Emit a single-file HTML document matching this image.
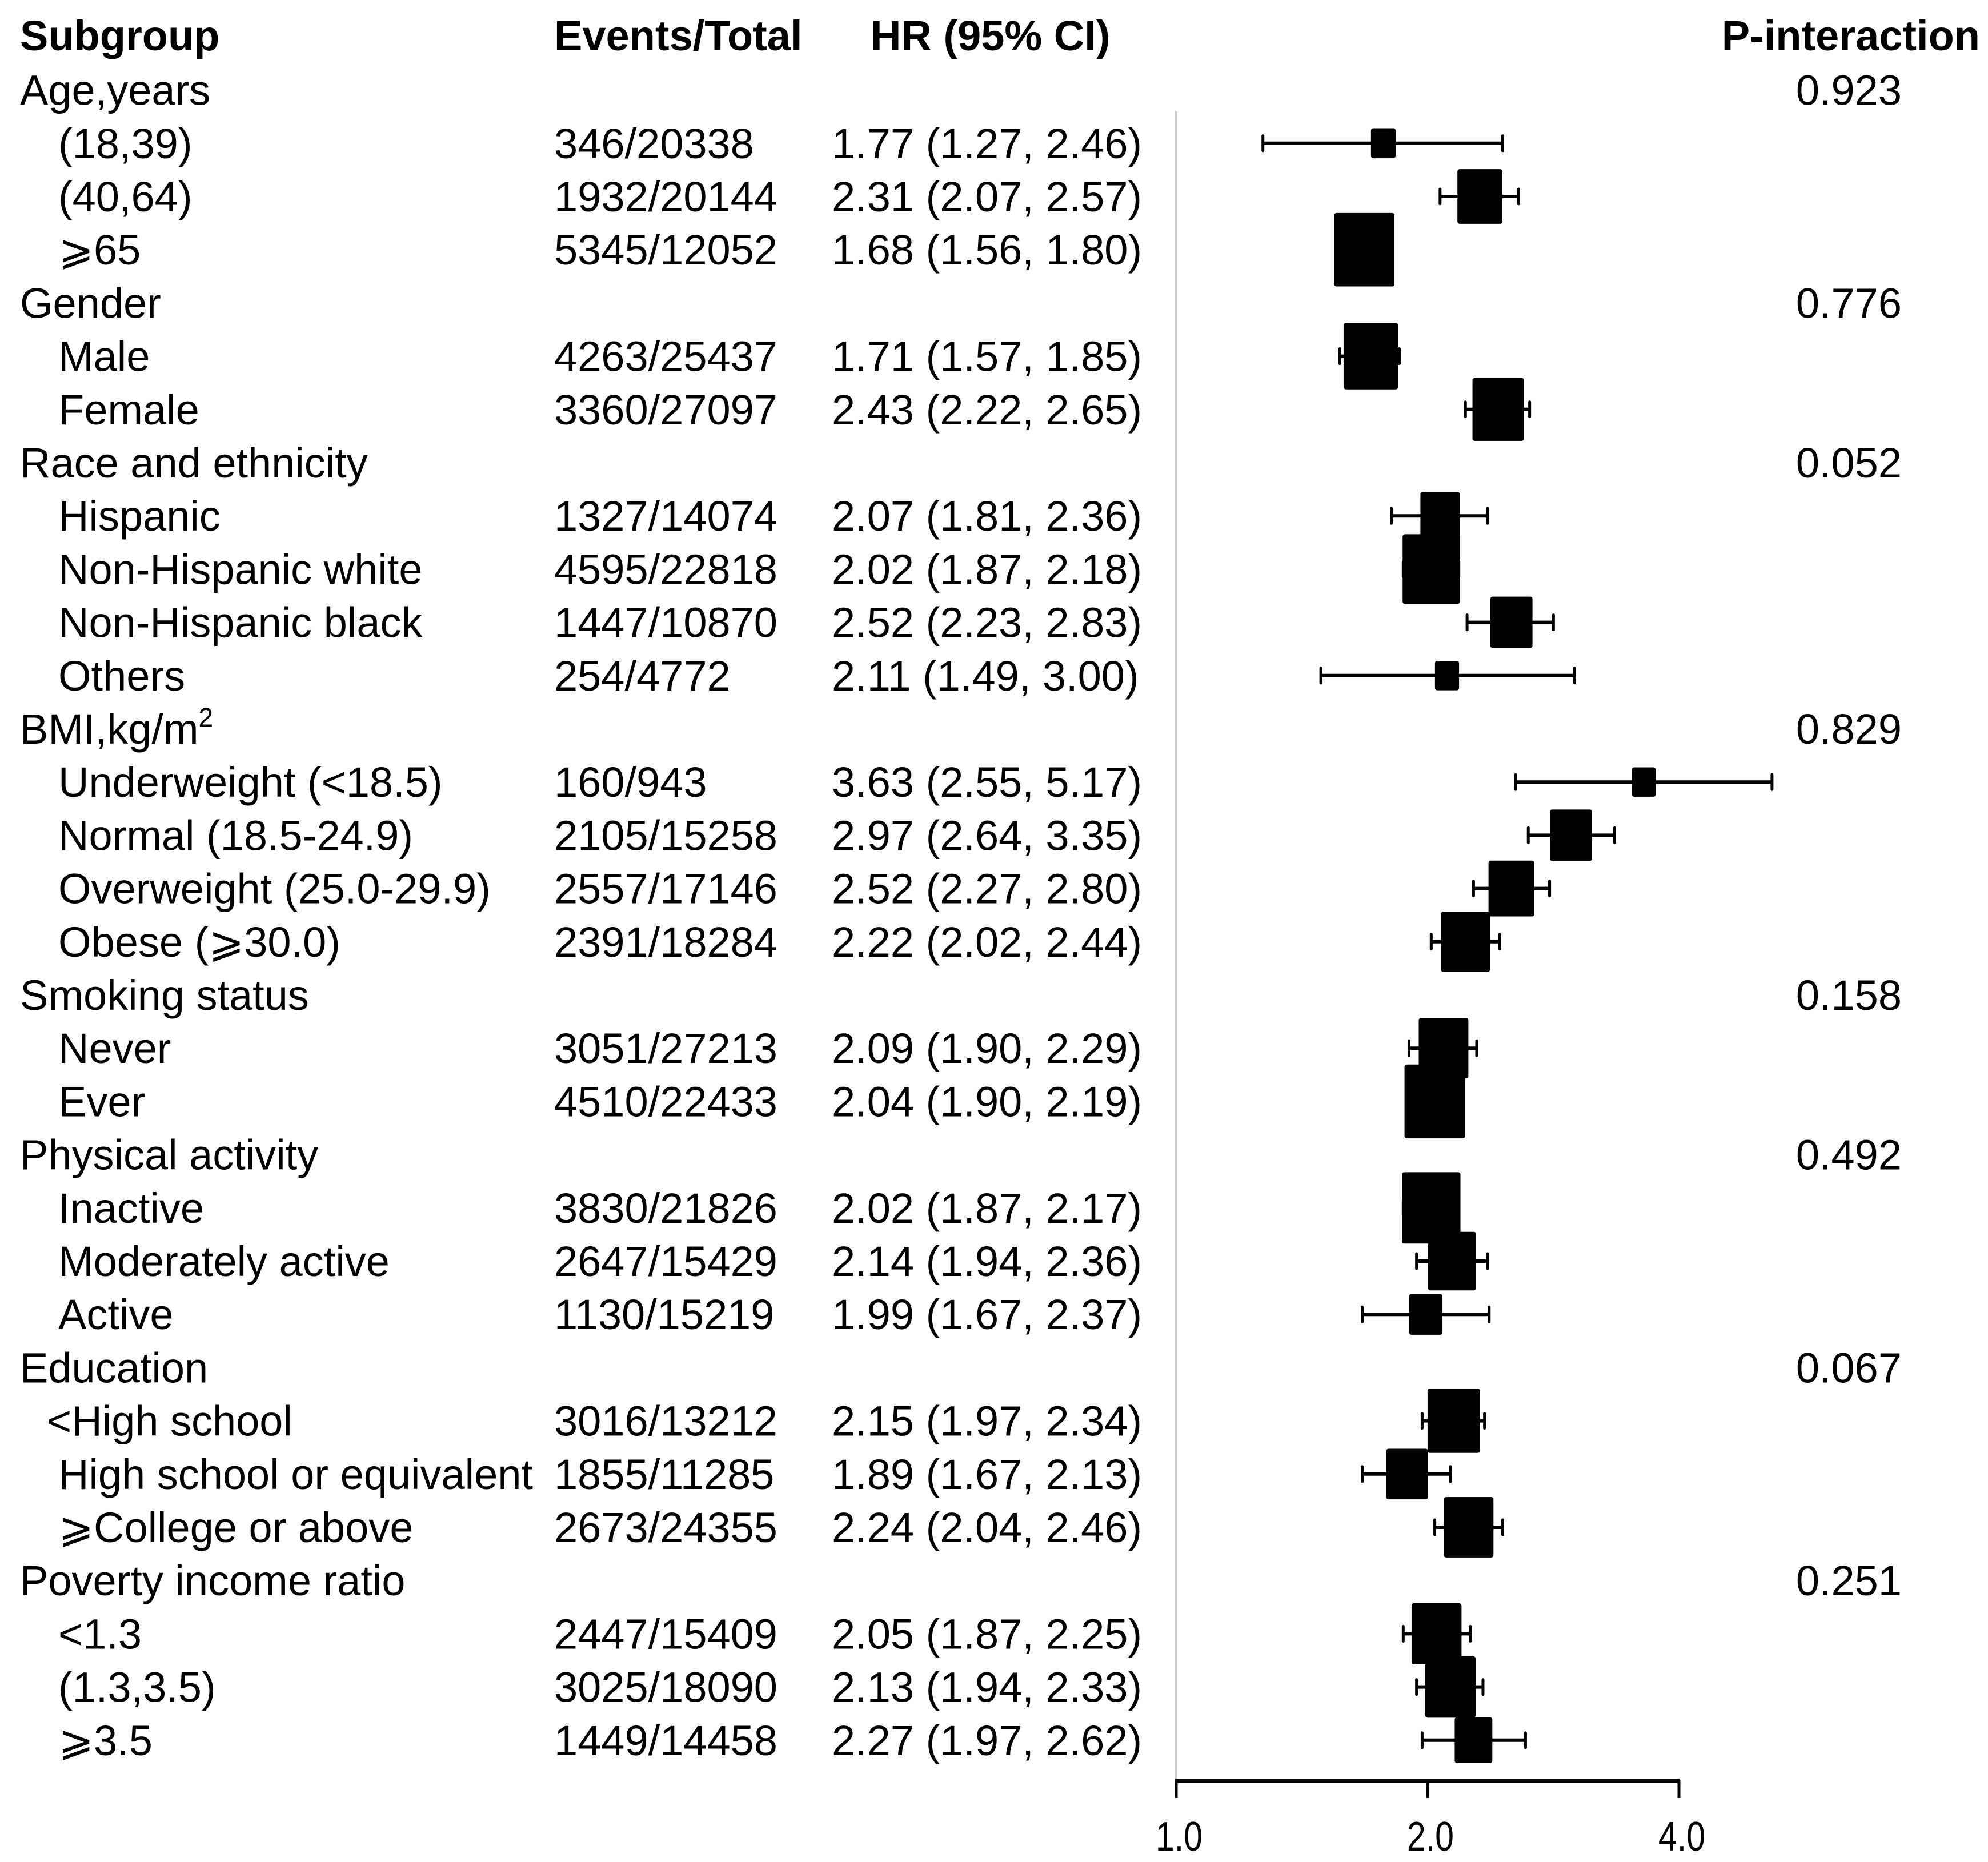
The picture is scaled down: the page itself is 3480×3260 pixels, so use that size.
<!DOCTYPE html>
<html><head><meta charset="utf-8">
<style>
html,body{margin:0;padding:0;background:#fff;}
svg{display:block;}
text{font-family:"Liberation Sans","DejaVu Sans","Noto Sans CJK SC",sans-serif;fill:#000;}
</style></head>
<body>
<svg id="chart" width="3480" height="3260" viewBox="0 0 3480 3260" xmlns="http://www.w3.org/2000/svg">
<g id="hdr" font-size="74" font-weight="bold">
<text x="35" y="88">Subgroup</text>
<text x="970" y="88">Events/Total</text>
<text x="1524" y="88">HR (95% CI)</text>
<text x="3466" y="88" text-anchor="end">P-interaction</text>
</g>
<g id="rows"></g>
<g id="marks"></g>
<g id="axis"></g>
</svg>
<script>
const labels = ["Age,years","(18,39)","(40,64)","⩾65","Gender","Male","Female","Race and ethnicity","Hispanic","Non-Hispanic white","Non-Hispanic black","Others","BMI,kg/m²","Underweight (<18.5)","Normal (18.5-24.9)","Overweight (25.0-29.9)","Obese (⩾30.0)","Smoking status","Never","Ever","Physical activity","Inactive","Moderately active","Active","Education","<High school","High school or equivalent","⩾College or above","Poverty income ratio","<1.3","(1.3,3.5)","⩾3.5"];
const isGroup = [1,0,0,0,1,0,0,1,0,0,0,0,1,0,0,0,0,1,0,0,1,0,0,0,1,0,0,0,1,0,0,0];
const events = ["","346/20338","1932/20144","5345/12052","","4263/25437","3360/27097","","1327/14074","4595/22818","1447/10870","254/4772","","160/943","2105/15258","2557/17146","2391/18284","","3051/27213","4510/22433","","3830/21826","2647/15429","1130/15219","","3016/13212","1855/11285","2673/24355","","2447/15409","3025/18090","1449/14458"];
const hr =  [null,1.77,2.31,1.68,null,1.71,2.43,null,2.07,2.02,2.52,2.11,null,3.63,2.97,2.52,2.22,null,2.09,2.04,null,2.02,2.14,1.99,null,2.15,1.89,2.24,null,2.05,2.13,2.27];
const lo =  [null,1.27,2.07,1.56,null,1.57,2.22,null,1.81,1.87,2.23,1.49,null,2.55,2.64,2.27,2.02,null,1.90,1.90,null,1.87,1.94,1.67,null,1.97,1.67,2.04,null,1.87,1.94,1.97];
const hi =  [null,2.46,2.57,1.80,null,1.85,2.65,null,2.36,2.18,2.83,3.00,null,5.17,3.35,2.80,2.44,null,2.29,2.19,null,2.17,2.36,2.37,null,2.34,2.13,2.46,null,2.25,2.33,2.62];
const pvals = ["0.923","","","","0.776","","","0.052","","","","","0.829","","","","","0.158","","","0.492","","","","0.067","","","","0.251","","",""];
const ticks = [1,2,4];
const tickLabels = ["1.0","2.0","4.0"];

const NS="http://www.w3.org/2000/svg";
const X0=2059, PX=440;
function xs(v){return X0+PX*Math.log2(v);}
function ys(i){return 157.6+93.2*i;}
function mk(tag,attrs,parent){const e=document.createElementNS(NS,tag);for(const k in attrs)e.setAttribute(k,attrs[k]);parent.appendChild(e);return e;}
const rows=document.getElementById('rows'), marks=document.getElementById('marks'), axis=document.getElementById('axis');

const ref=mk('line',{x1:X0,y1:195,x2:X0,y2:3118,stroke:'#cfcfcf','stroke-width':4},axis);



labels.forEach((lab,i)=>{
  const y=ys(i)+26;
  const ind = isGroup[i]?35:(lab.startsWith('<High')?82:102);
  let t;
  if(lab==="BMI,kg/m²"){
    t=mk('text',{x:ind,y:y,'font-size':74},rows);
    t.textContent="BMI,kg/m";
    const s=document.createElementNS(NS,'tspan');s.setAttribute('font-size',46);s.setAttribute('dy',-30);s.textContent="2";t.appendChild(s);
  } else {
    t=mk('text',{x:ind,y:y,'font-size':74},rows);
    t.textContent=lab;
  }
  
  
  if(events[i]){
    const e=mk('text',{x:970,y:y,'font-size':74},rows);
    e.textContent=events[i];
    
    
  }
  if(hr[i]!==null){
    const h=mk('text',{x:1456,y:y,'font-size':74},rows);
    h.textContent=hr[i].toFixed(2)+" ("+lo[i].toFixed(2)+", "+hi[i].toFixed(2)+")";
    
    
    const cy=ys(i);
    const g=mk('g',{},marks);
    
    
    const x1=xs(lo[i]), x2=xs(hi[i]);
    mk('line',{x1:x1,y1:cy,x2:x2,y2:cy,stroke:'#000','stroke-width':6},g);
    mk('line',{x1:x1,y1:cy-13,x2:x1,y2:cy+13,stroke:'#000','stroke-width':5,'stroke-linecap':'round'},g);
    mk('line',{x1:x2,y1:cy-13,x2:x2,y2:cy+13,stroke:'#000','stroke-width':5,'stroke-linecap':'round'},g);
    const se=(Math.log(hi[i])-Math.log(lo[i]))/3.92;
    const w=Math.min(112,26+2.9/se), hh=w*1.22;
    const r=mk('rect',{x:xs(hr[i])-w/2,y:cy-hh/2,width:w,height:hh,rx:4,fill:'#000'},g);
    
    
  }
  if(pvals[i]){
    const p=mk('text',{x:3329,y:y,'font-size':74,'text-anchor':'end'},rows);
    p.textContent=pvals[i];
    
    
  }
});

const al=mk('line',{x1:xs(ticks[0])-2,y1:3118,x2:xs(ticks[ticks.length-1])+2,y2:3118,stroke:'#000','stroke-width':8},axis);


ticks.forEach((v,k)=>{
  const tk=mk('line',{x1:xs(v),y1:3116,x2:xs(v),y2:3148,stroke:'#000','stroke-width':5},axis);
  
  
  const tl=mk('text',{x:xs(v)+6,y:3240,'font-size':72,'text-anchor':'middle',transform:'translate('+xs(v)+',0) scale(0.82,1) translate('+(-xs(v))+',0)'},axis);
  tl.textContent=tickLabels[k];
  
  
});
</script>
</body></html>
